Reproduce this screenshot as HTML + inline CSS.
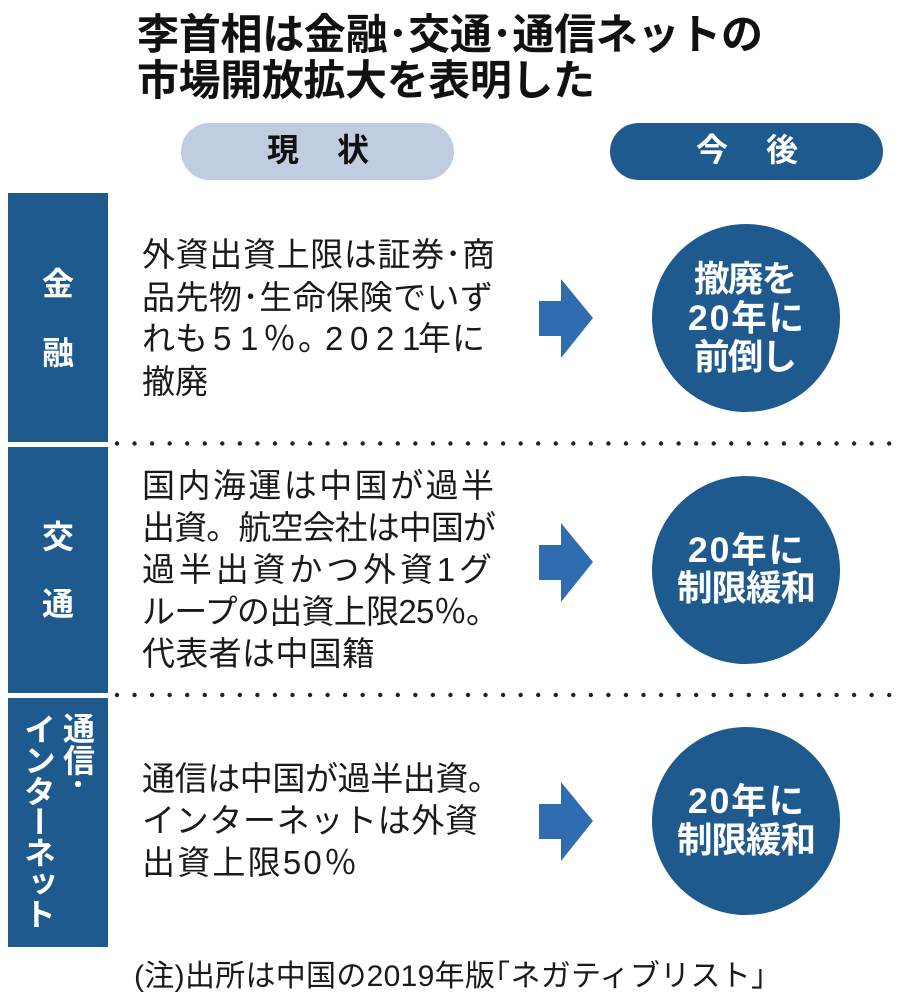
<!DOCTYPE html>
<html lang="ja"><head><meta charset="utf-8"><style>
html,body{margin:0;padding:0;background:#fff;width:900px;height:999px;overflow:hidden}
svg{display:block;font-family:"Liberation Sans","Noto Sans CJK JP",sans-serif}
.b{font-size:33px;fill:#1a1a1a}
.t{font-size:42px;font-weight:700;fill:#111}
.w{font-size:32px;font-weight:700;fill:#fff;text-anchor:middle}
.c{font-size:35.5px;font-weight:700;fill:#fff}
.p{font-size:32px;font-weight:700}
.v{font-size:32px;font-weight:700;fill:#fff;writing-mode:vertical-rl}
</style></head><body>
<svg width="900" height="999" viewBox="0 0 900 999" xmlns="http://www.w3.org/2000/svg">
<rect width="900" height="999" fill="#fff"/>
<text class="t" x="137" y="49" textLength="626">李首相は金融･交通･通信ネットの</text>
<text class="t" x="137" y="95" textLength="458">市場開放拡大を表明した</text>

<rect x="181" y="123" width="273" height="57" rx="28.5" fill="#c0cde0"/>
<rect x="610" y="123" width="273" height="57" rx="28.5" fill="#1f5a8e"/>
<text class="p" x="267" y="161" fill="#111">現</text>
<text class="p" x="337" y="161" fill="#111">状</text>
<text class="p" x="696" y="161" fill="#fff">今</text>
<text class="p" x="766" y="161" fill="#fff">後</text>

<rect x="8" y="193" width="100" height="249" fill="#1f5a8e"/>
<rect x="8" y="447" width="100" height="246" fill="#1f5a8e"/>
<rect x="8" y="698" width="100" height="249" fill="#1f5a8e"/>
<text class="w" x="58" y="295">金</text>
<text class="w" x="58" y="364">融</text>
<text class="w" x="58" y="548">交</text>
<text class="w" x="58" y="615">通</text>
<text class="v" x="77" y="712">通信･</text>
<text class="v" x="38" y="713" textLength="217">インターネット</text>

<text class="b" x="142" y="266" textLength="353">外資出資上限は証券･商</text>
<text class="b" x="142" y="309" textLength="351">品先物･生命保険でいず</text>
<text class="b" x="142 175 213 240 263 298 325 350 376 402 418 452" y="350">れも51％。2021年に</text>
<text class="b" x="142" y="393">撤廃</text>

<text class="b" x="142" y="497" textLength="352">国内海運は中国が過半</text>
<text class="b" x="142" y="539" textLength="354">出資。航空会社は中国が</text>
<text class="b" x="142" y="581" textLength="350">過半出資かつ外資1グ</text>
<text class="b" x="142" y="623" textLength="357">ループの出資上限25％。</text>
<text class="b" x="142" y="665" textLength="233">代表者は中国籍</text>

<text class="b" x="142" y="790" textLength="359">通信は中国が過半出資。</text>
<text class="b" x="142" y="832" textLength="336">インターネットは外資</text>
<text class="b" x="142" y="874" textLength="215">出資上限50％</text>

<g fill="#2f6cb0">
<polygon points="539,301 561,301 561,279 593,318 561,358 561,336 539,336"/>
<polygon points="539,545 561,545 561,523 593,562 561,602 561,580 539,580"/>
<polygon points="539,804 561,804 561,782 593,821 561,861 561,839 539,839"/>
</g>

<circle cx="746" cy="318" r="94" fill="#1f5a8e"/>
<circle cx="746" cy="570" r="94" fill="#1f5a8e"/>
<circle cx="746" cy="821" r="94" fill="#1f5a8e"/>
<text class="c" x="694" y="291" textLength="103">撤廃を</text>
<text class="c" x="688" y="330" textLength="116">20年に</text>
<text class="c" x="694" y="369" textLength="103">前倒し</text>
<text class="c" x="688" y="562" textLength="116">20年に</text>
<text class="c" x="677" y="600" textLength="139">制限緩和</text>
<text class="c" x="688" y="813" textLength="116">20年に</text>
<text class="c" x="677" y="852" textLength="139">制限緩和</text>

<line x1="117" y1="443.5" x2="895" y2="443.5" stroke="#222" stroke-width="4.4" stroke-linecap="round" stroke-dasharray="0 17.55"/>
<line x1="117" y1="695" x2="895" y2="695" stroke="#222" stroke-width="4.4" stroke-linecap="round" stroke-dasharray="0 17.55"/>

<text x="134" y="986" font-size="30" fill="#1a1a1a" textLength="632">(注)出所は中国の2019年版｢ネガティブリスト｣</text>
</svg>
</body></html>
